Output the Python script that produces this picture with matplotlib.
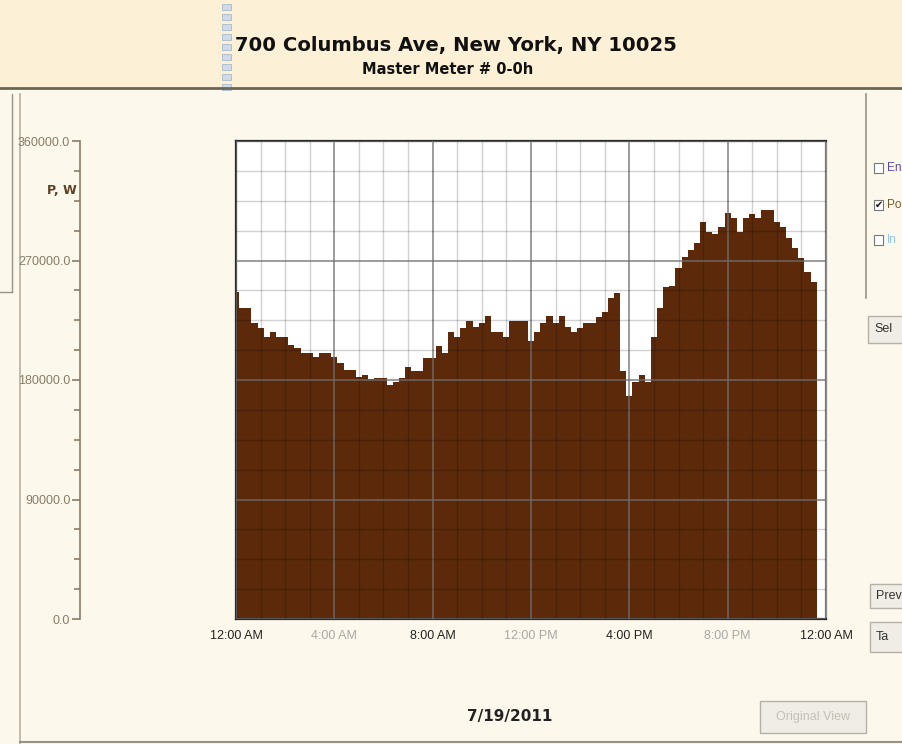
import numpy as np
import matplotlib.pyplot as plt
from matplotlib.patches import Rectangle
from matplotlib.ticker import MultipleLocator, FuncFormatter

# 15 minute readings, 7/19/2011
hours = np.arange(95) * 0.25
power_w = [
    246500, 234400, 234400, 223100, 219400, 212600, 216400, 212600,
    212600, 206300, 203900, 200600, 200600, 197500, 200600, 200600,
    197100, 193000, 187500, 187500, 182000, 183800, 180500, 181300,
    181300, 176200, 178700, 181700, 190000, 187000, 187000, 196800,
    196800, 205800, 200600, 216400, 212200, 218900, 224700, 219700,
    223100, 228200, 216400, 216400, 212600, 224700, 224700, 224700,
    209400, 216400, 222700, 228200, 222700, 228200, 219700, 216400,
    218900, 222700, 222700, 227700, 231400, 241500, 245300, 186800,
    167900, 178700, 183800, 178700, 212600, 234400, 250300, 250800,
    264600, 272800, 277900, 282900, 298800, 291200, 289700, 295000,
    305500, 301800, 291200, 301800, 304800, 301800, 308000, 308000,
    298800, 295400, 286700, 279200, 272100, 261100, 253600,
]

tick_hours = [0, 4, 8, 12, 16, 20, 24]
tick_labels = ['12:00 AM', '4:00 AM', '8:00 AM', '12:00 PM', '4:00 PM', '8:00 PM', '12:00 AM']
tick_colors = ['#222222', '#a8a8a8', '#222222', '#a8a8a8', '#222222', '#a8a8a8', '#222222']

title = '700 Columbus Ave, New York, NY 10025'
subtitle = 'Master Meter # 0-0h'
date_label = '7/19/2011'

W, H = 903, 744
narrow = ['Liberation Sans Narrow', 'Liberation Sans', 'DejaVu Sans']

fig = plt.figure(figsize=(W / 100, H / 100), dpi=100)
fig.patch.set_facecolor('#fdf8ec')

# page decoration in pixel coordinates
bg = fig.add_axes([0, 0, 1, 1], zorder=0)
bg.set_xlim(0, W)
bg.set_ylim(H, 0)
bg.axis('off')
bg.add_patch(Rectangle((0, 0), W, 88, color='#fcf0d6', lw=0))
bg.plot([0, W], [88, 88], color='#6b6555', lw=2)
bg.plot([20, 20], [94, H], color='#b9b2a2', lw=1.2)
bg.plot([12, 12], [94, 292], color='#9a9488', lw=1)
bg.plot([0, 12], [292, 292], color='#9a9488', lw=1)
bg.plot([20, W], [H - 2, H - 2], color='#9a9488', lw=1.5)
bg.plot([866, 866], [94, 298], color='#9a9488', lw=1.2)
for yy in range(4, 88, 10):
    bg.add_patch(Rectangle((222, yy), 9, 6, facecolor='#cfdbe8', edgecolor='#a9b9cc', lw=0.6))

bg.text(456, 46, title, ha='center', va='center', fontsize=14.1, fontweight='bold', color='#111111')
bg.text(448, 70, subtitle, ha='center', va='center', fontsize=10.5, fontweight='bold', color='#111111')
bg.text(510, 717, date_label, ha='center', va='center', fontsize=11, fontweight='bold', color='#222222')

# right side controls (cut off by the page edge)
for yy, lab, col, chk in [(168, 'En', '#5a4aa8', False), (205, 'Po', '#7a5a2a', True), (240, 'In', '#8fc3e8', False)]:
    bg.add_patch(Rectangle((874, yy - 5), 9, 10, facecolor='white', edgecolor='#777777', lw=0.8))
    if chk:
        bg.text(878.5, yy, '✔', ha='center', va='center', fontsize=7, color='#111111')
    bg.text(887, yy, lab, ha='left', va='center', fontsize=8.5, color=col, family=narrow)
for (x0, y0, w, h, lab, col) in [(868, 316, 40, 27, 'Sel', '#333333'),
                                  (870, 584, 40, 24, 'Prev', '#333333'),
                                  (870, 622, 40, 30, 'Ta', '#333333'),
                                  (760, 701, 106, 32, 'Original View', '#c4c0b8')]:
    bg.add_patch(Rectangle((x0, y0), w, h, facecolor='#efede6', edgecolor='#b5b1a8', lw=1))
    bg.text(x0 + (6 if w < 60 else w / 2), y0 + h / 2, lab, ha='left' if w < 60 else 'center',
            va='center', fontsize=9, color=col, family=narrow)

# main chart
left, bottom = 236 / W, 1 - 619 / H
width, height = 590 / W, 478 / H
ax = fig.add_axes([left, bottom, width, height], zorder=2)
ax.set_facecolor('white')
ax.bar(hours, power_w, width=0.25, color='#5c2a0b', linewidth=0, zorder=1)
ax.set_xlim(0, 24)
ax.set_ylim(0, 360000)

ax.xaxis.set_major_locator(MultipleLocator(4))
ax.xaxis.set_minor_locator(MultipleLocator(1))
ax.yaxis.set_major_locator(MultipleLocator(90000))
ax.yaxis.set_minor_locator(MultipleLocator(22500))
ax.set_axisbelow(False)
ax.grid(which='minor', color='black', alpha=0.18, lw=1)
ax.grid(which='major', color='#6e6e6e', alpha=0.8, lw=1.2)
ax.tick_params(which='both', length=0)
ax.set_yticklabels([])
ax.set_xticks(tick_hours)
ax.set_xticklabels(tick_labels, family=narrow, fontsize=9)
for lab, c in zip(ax.get_xticklabels(), tick_colors):
    lab.set_color(c)
ax.tick_params(axis='x', pad=8)
for s in ax.spines.values():
    s.set_color('#2a2a2a')
    s.set_linewidth(1.6)
ax.spines['right'].set_color('#8a8a8a')

# separate value axis on the left
ay = fig.add_axes([80 / W, bottom, 0.0001, height], zorder=2)
ay.set_ylim(0, 360000)
ay.set_xticks([])
for k in ['top', 'right', 'bottom']:
    ay.spines[k].set_visible(False)
ay.spines['left'].set_color('#8a7c66')
ay.spines['left'].set_linewidth(1.2)
ay.yaxis.set_major_locator(MultipleLocator(90000))
ay.yaxis.set_minor_locator(MultipleLocator(22500))
ay.yaxis.set_major_formatter(FuncFormatter(lambda v, p: f'{v:.1f}'))
ay.tick_params(which='major', length=6, width=1.2, color='#8a7c66', labelcolor='#8a7c66', pad=1)
ay.tick_params(which='minor', length=4, width=1.2, color='#8a7c66')
for lab in ay.get_yticklabels():
    lab.set_family(narrow)
    lab.set_fontsize(9)
ay.set_facecolor('none')
bg.text(77, 190, 'P, W', ha='right', va='center', fontsize=9, fontweight='bold', color='#5e4124')

fig.savefig('out.png', dpi=100, facecolor=fig.get_facecolor())
